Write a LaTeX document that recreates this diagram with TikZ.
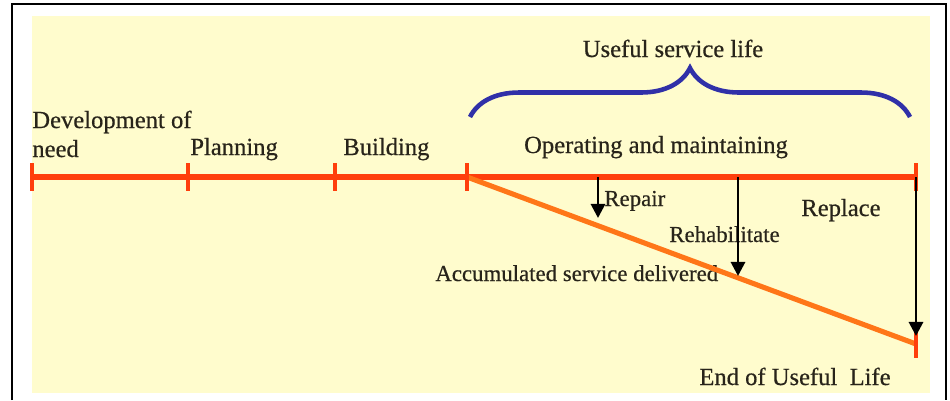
\documentclass[tikz,border=0pt]{standalone}
\usepackage{fontspec}
\setmainfont{Liberation Serif}
\newfontfamily\labelfont{Liberation Serif}[FakeBold=0.5]
\usetikzlibrary{arrows.meta,calc,decorations.pathreplacing}

\definecolor{bgyellow}{RGB}{255,252,205}
\definecolor{linered}{RGB}{255,62,12}
\definecolor{lineorange}{RGB}{255,118,24}
\definecolor{bracenavy}{RGB}{48,48,168}
\definecolor{txtdark}{RGB}{40,36,26}

\tikzset{
  lbl/.style={font=\labelfont\fontsize{14}{16.5}\selectfont, text=txtdark, inner sep=0pt},
  sublbl/.style={lbl, font=\labelfont\fontsize{13}{15.5}\selectfont},
  tickmark/.style={linered, line width=2.4pt},
  downarrow/.style={->, line width=1.6pt},
}

\begin{document}
\begin{tikzpicture}[x=0.02cm, y=-0.02cm, >={Triangle[width=8pt,length=8pt]}]
  \useasboundingbox (0,0) rectangle (950,400);

  % 枠と背景
  \draw[line width=1.2pt] (12,400) -- (12,4) -- (946,4) -- (946,400);
  \fill[bgyellow] (32,16) rectangle (930,393);

  % ラベル
  \node[lbl, anchor=base west, align=left] (dev) at (32,157) {Development of\\need};
  \node[lbl, anchor=base west] (planning) at (190,155) {Planning};
  \node[lbl, anchor=base west] (building) at (343,155) {Building};
  \node[lbl, anchor=base] (operating) at (656,153) {Operating and maintaining};
  \node[lbl, anchor=base] (useful) at (673,57) {Useful service life};
  \node[sublbl, anchor=base west] (repair) at (604,206) {Repair};
  \node[sublbl, anchor=base west] (rehab) at (669,242) {Rehabilitate};
  \node[lbl, anchor=base west] (replace) at (801,216) {Replace};
  \node[sublbl, anchor=base west] (accum) at (435,281) {Accumulated service delivered};
  \node[lbl, anchor=base west] (endlife) at (699,385) {End of Useful\ \ Life};

  % 時間軸
  \coordinate (need) at (32,177);
  \coordinate (plan) at (188,177);
  \coordinate (build) at (335,177);
  \coordinate (oper) at (467,177);
  \coordinate (eolTop) at (916,177);
  \coordinate (eol) at (916,344);
  \draw[linered, line width=3pt] (need) -- (eolTop);

  % 累積サービス
  \draw[lineorange, line width=2.9pt] (oper) -- (eol);
  \foreach \p in {need,plan,build,oper,eolTop,eol}
    \draw[tickmark] ($(\p)+(0,-14)$) -- ($(\p)+(0,14)$);

  % 修繕・改修・更新
  \coordinate (repT) at (598,177);  \coordinate (repB) at (598,218);
  \coordinate (rehT) at (738,177);  \coordinate (rehB) at (738,276);
  \coordinate (rplT) at (916,177);  \coordinate (rplB) at (916,336);
  \draw[downarrow] (repT) -- (repB);
  \draw[downarrow] (rehT) -- (rehB);
  \draw[downarrow] (rplT) -- (rplB);

  % 耐用期間
  \coordinate (lifeL) at (470,117);
  \coordinate (lifeR) at (910,117);
  \draw[bracenavy, line width=2.6pt, decorate,
        decoration={brace, amplitude=0.98cm}] (lifeL) -- (lifeR);
\end{tikzpicture}
\end{document}
